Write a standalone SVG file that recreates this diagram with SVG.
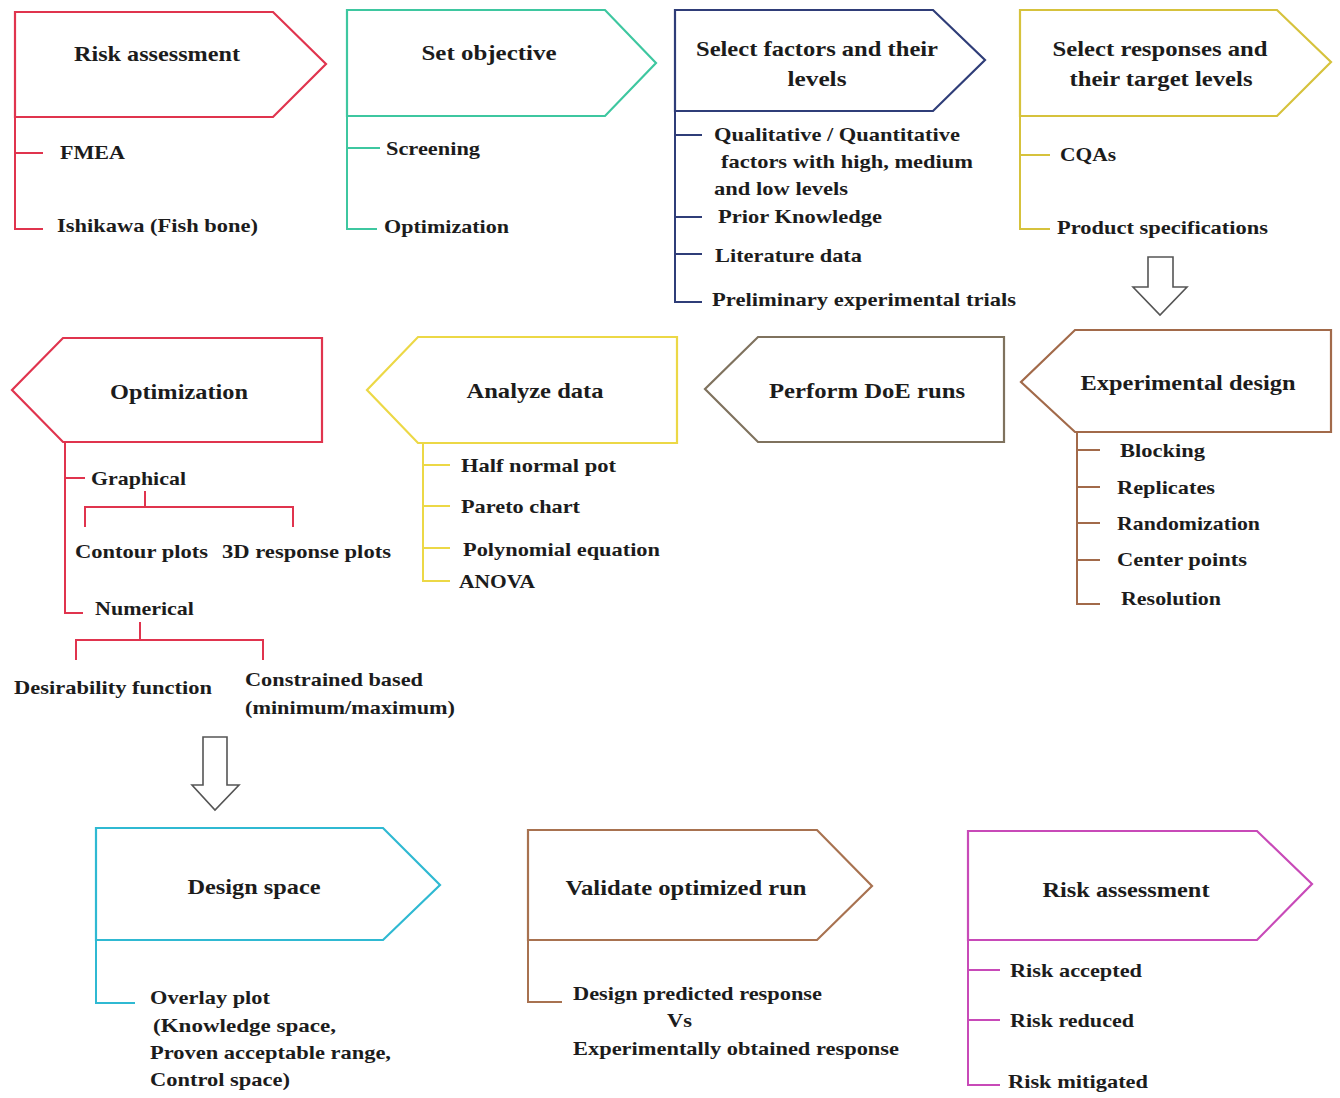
<svg xmlns="http://www.w3.org/2000/svg" width="1340" height="1098" viewBox="0 0 1340 1098">
  <style>
    .shape { fill: #ffffff; stroke-width: 2.2; stroke-linejoin: miter; }
    .stem { fill: none; stroke-width: 2; }
    .title { font-family: "Liberation Serif", "Times New Roman", serif; font-weight: bold; font-size: 22px; fill: #1c1c1c; text-anchor: middle; }
    .item { font-family: "Liberation Serif", "Times New Roman", serif; font-weight: bold; font-size: 19px; fill: #1c1c1c; }
    .block { fill: #ffffff; stroke: #555555; stroke-width: 1.6; stroke-linejoin: miter; }
    .red { stroke: #e0344e; }
    .teal { stroke: #3ec7a0; }
    .navy { stroke: #2f3d78; }
    .olive { stroke: #d6c23c; }
    .brown { stroke: #a26a4a; }
    .grey { stroke: #7f725e; }
    .yellow { stroke: #ecd846; }
    .cyan { stroke: #2fb9d2; }
    .tan { stroke: #a87250; }
    .magenta { stroke: #c84ab8; }
  </style>

  <rect width="1340" height="1098" fill="#ffffff"/>

  <!-- Row 1: left-to-right steps -->
  <g id="risk-assessment-1">
    <path class="shape red" d="M15,12 H273 L326,64 L273,117 H15 Z"/>
    <text class="title" x="157" y="60.5" textLength="166" lengthAdjust="spacingAndGlyphs">Risk assessment</text>
    <path class="stem red" d="M15,117 V229 H43 M15,153 H43"/>
    <text class="item" x="60" y="158.5" textLength="65" lengthAdjust="spacingAndGlyphs">FMEA</text>
    <text class="item" x="57" y="231.5" textLength="201" lengthAdjust="spacingAndGlyphs">Ishikawa (Fish bone)</text>
  </g>

  <g id="set-objective">
    <path class="shape teal" d="M347,10 H605 L656,63 L605,116 H347 Z"/>
    <text class="title" x="489" y="59.5" textLength="135" lengthAdjust="spacingAndGlyphs">Set objective</text>
    <path class="stem teal" d="M347,116 V229 H377 M347,148 H380"/>
    <text class="item" x="386" y="154.5" textLength="94" lengthAdjust="spacingAndGlyphs">Screening</text>
    <text class="item" x="384" y="232.5" textLength="125" lengthAdjust="spacingAndGlyphs">Optimization</text>
  </g>

  <g id="select-factors">
    <path class="shape navy" d="M675,10 H933 L985,60 L933,111 H675 Z"/>
    <text class="title" x="817" y="55.5" textLength="242" lengthAdjust="spacingAndGlyphs">Select factors and their</text>
    <text class="title" x="817" y="85.5" textLength="59" lengthAdjust="spacingAndGlyphs">levels</text>
    <path class="stem navy" d="M675,111 V302 H702 M675,135 H702 M675,217 H702 M675,254 H702"/>
    <text class="item" x="714" y="140.5" textLength="246" lengthAdjust="spacingAndGlyphs">Qualitative / Quantitative</text>
    <text class="item" x="721" y="167.5" textLength="252" lengthAdjust="spacingAndGlyphs">factors with high, medium</text>
    <text class="item" x="714" y="194.5" textLength="134" lengthAdjust="spacingAndGlyphs">and low levels</text>
    <text class="item" x="718" y="222.5" textLength="164" lengthAdjust="spacingAndGlyphs">Prior Knowledge</text>
    <text class="item" x="715" y="261.5" textLength="147" lengthAdjust="spacingAndGlyphs">Literature data</text>
    <text class="item" x="712" y="305.5" textLength="304" lengthAdjust="spacingAndGlyphs">Preliminary experimental trials</text>
  </g>

  <g id="select-responses">
    <path class="shape olive" d="M1020,10 H1277 L1331,62 L1277,116 H1020 Z"/>
    <text class="title" x="1160" y="55.5" textLength="215" lengthAdjust="spacingAndGlyphs">Select responses and</text>
    <text class="title" x="1161" y="85.5" textLength="183" lengthAdjust="spacingAndGlyphs">their target levels</text>
    <path class="stem olive" d="M1020,116 V229 H1050 M1020,155 H1050"/>
    <text class="item" x="1060" y="160.5" textLength="56" lengthAdjust="spacingAndGlyphs">CQAs</text>
    <text class="item" x="1057" y="233.5" textLength="211" lengthAdjust="spacingAndGlyphs">Product specifications</text>
  </g>

  <!-- Row 2: right-to-left steps -->
  <g id="experimental-design">
    <path class="shape brown" d="M1331,330 H1075 L1021,382 L1075,432 H1331 Z"/>
    <text class="title" x="1188" y="389.5" textLength="215" lengthAdjust="spacingAndGlyphs">Experimental design</text>
    <path class="stem brown" d="M1077,432 V604 H1100 M1077,450 H1100 M1077,487 H1100 M1077,523 H1100 M1077,560 H1100"/>
    <text class="item" x="1120" y="456.5" textLength="85" lengthAdjust="spacingAndGlyphs">Blocking</text>
    <text class="item" x="1117" y="493.5" textLength="98" lengthAdjust="spacingAndGlyphs">Replicates</text>
    <text class="item" x="1117" y="529.5" textLength="143" lengthAdjust="spacingAndGlyphs">Randomization</text>
    <text class="item" x="1117" y="565.5" textLength="130" lengthAdjust="spacingAndGlyphs">Center points</text>
    <text class="item" x="1121" y="604.5" textLength="100" lengthAdjust="spacingAndGlyphs">Resolution</text>
  </g>

  <g id="perform-doe-runs">
    <path class="shape grey" d="M1004,337 H758 L705,389 L758,442 H1004 Z"/>
    <text class="title" x="867" y="397.5" textLength="196" lengthAdjust="spacingAndGlyphs">Perform DoE runs</text>
  </g>

  <g id="analyze-data">
    <path class="shape yellow" d="M677,337 H418 L367,390 L418,443 H677 Z"/>
    <text class="title" x="535" y="397.5" textLength="137" lengthAdjust="spacingAndGlyphs">Analyze data</text>
    <path class="stem yellow" d="M423,443 V581 H450 M423,465 H450 M423,506 H450 M423,548 H450"/>
    <text class="item" x="461" y="471.5" textLength="155" lengthAdjust="spacingAndGlyphs">Half normal pot</text>
    <text class="item" x="461" y="512.5" textLength="119" lengthAdjust="spacingAndGlyphs">Pareto chart</text>
    <text class="item" x="463" y="555.5" textLength="197" lengthAdjust="spacingAndGlyphs">Polynomial equation</text>
    <text class="item" x="459" y="587.5" textLength="76" lengthAdjust="spacingAndGlyphs">ANOVA</text>
  </g>

  <g id="optimization">
    <path class="shape red" d="M322,338 H63 L12,390 L63,442 H322 Z"/>
    <text class="title" x="179" y="398.5" textLength="138" lengthAdjust="spacingAndGlyphs">Optimization</text>
    <path class="stem red" d="M65,442 V613 H83 M65,478 H85"/>
    <text class="item" x="91" y="484.5" textLength="95" lengthAdjust="spacingAndGlyphs">Graphical</text>
    <path class="stem red" d="M145,491 V507 M85,527 V507 H293 V527"/>
    <text class="item" x="75" y="557.5" textLength="133" lengthAdjust="spacingAndGlyphs">Contour plots</text>
    <text class="item" x="222" y="557.5" textLength="169" lengthAdjust="spacingAndGlyphs">3D response plots</text>
    <text class="item" x="95" y="614.5" textLength="99" lengthAdjust="spacingAndGlyphs">Numerical</text>
    <path class="stem red" d="M140,622 V640 M76,660 V640 H263 V660"/>
    <text class="item" x="14" y="693.5" textLength="198" lengthAdjust="spacingAndGlyphs">Desirability function</text>
    <text class="item" x="245" y="685.5" textLength="178" lengthAdjust="spacingAndGlyphs">Constrained based</text>
    <text class="item" x="245" y="713.5" textLength="210" lengthAdjust="spacingAndGlyphs">(minimum/maximum)</text>
  </g>

  <!-- Row 3: left-to-right steps -->
  <g id="design-space">
    <path class="shape cyan" d="M96,828 H383 L440,885 L383,940 H96 Z"/>
    <text class="title" x="254" y="893.5" textLength="133" lengthAdjust="spacingAndGlyphs">Design space</text>
    <path class="stem cyan" d="M96,940 V1003 H135"/>
    <text class="item" x="150" y="1003.5" textLength="120" lengthAdjust="spacingAndGlyphs">Overlay plot</text>
    <text class="item" x="153" y="1031.5" textLength="183" lengthAdjust="spacingAndGlyphs">(Knowledge space,</text>
    <text class="item" x="150" y="1058.5" textLength="241" lengthAdjust="spacingAndGlyphs">Proven acceptable range,</text>
    <text class="item" x="150" y="1085.5" textLength="140" lengthAdjust="spacingAndGlyphs">Control space)</text>
  </g>

  <g id="validate-optimized-run">
    <path class="shape tan" d="M528,830 H817 L872,886 L817,940 H528 Z"/>
    <text class="title" x="686" y="894.5" textLength="241" lengthAdjust="spacingAndGlyphs">Validate optimized run</text>
    <path class="stem tan" d="M528,940 V1002 H562"/>
    <text class="item" x="573" y="999.5" textLength="249" lengthAdjust="spacingAndGlyphs">Design predicted response</text>
    <text class="item" x="667" y="1026.5" textLength="25" lengthAdjust="spacingAndGlyphs">Vs</text>
    <text class="item" x="573" y="1054.5" textLength="326" lengthAdjust="spacingAndGlyphs">Experimentally obtained response</text>
  </g>

  <g id="risk-assessment-2">
    <path class="shape magenta" d="M968,831 H1257 L1312,884 L1257,940 H968 Z"/>
    <text class="title" x="1126" y="896.5" textLength="167" lengthAdjust="spacingAndGlyphs">Risk assessment</text>
    <path class="stem magenta" d="M968,940 V1085 H1000 M968,970 H1000 M968,1020 H1000"/>
    <text class="item" x="1010" y="976.5" textLength="132" lengthAdjust="spacingAndGlyphs">Risk accepted</text>
    <text class="item" x="1010" y="1026.5" textLength="124" lengthAdjust="spacingAndGlyphs">Risk reduced</text>
    <text class="item" x="1008" y="1087.5" textLength="140" lengthAdjust="spacingAndGlyphs">Risk mitigated</text>
  </g>

  <!-- Hollow block arrows between rows -->
  <g id="connectors">
    <path class="block" d="M1148,257 H1173 V287 H1187 L1160,315 L1133,287 H1148 Z"/>
    <path class="block" d="M203,737 H227 V785 H239 L215,810 L192,785 H203 Z"/>
  </g>
</svg>
